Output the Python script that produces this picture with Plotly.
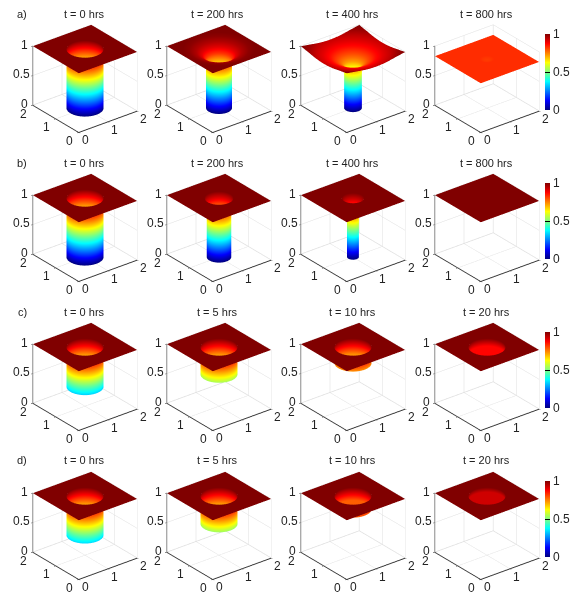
import numpy as np
import plotly.graph_objects as go

row_labels = ["a)", "b)", "c)", "d)"]
row_times = [["t = 0 hrs", "t = 200 hrs", "t = 400 hrs", "t = 800 hrs"],
             ["t = 0 hrs", "t = 200 hrs", "t = 400 hrs", "t = 800 hrs"],
             ["t = 0 hrs", "t = 5 hrs", "t = 10 hrs", "t = 20 hrs"],
             ["t = 0 hrs", "t = 5 hrs", "t = 10 hrs", "t = 20 hrs"]]

# radial profiles: (radius from centre, height)
a0_r = [0, .5, .5, 1.42];                         a0_z = [0, 0, 1, 1]
a200_r = [0, .35, .35, .45, .6, .8, 1.0, 1.42];   a200_z = [0, 0, .82, .9, .95, .985, 1, 1]
a400_r = [0, .24, .24, .3, .4, .6, .8, 1.0, 1.2, 1.42]; a400_z = [0, 0, .72, .76, .8, .86, .9, .93, .97, 1]
a800_r = [0, .1, .2, 1.42];                       a800_z = [.815, .82, .83, .83]
b0_r = [0, .5, .5, 1.42];                         b0_z = [0, 0, 1, 1]
b200_r = [0, .33, .33, .39, 1.42];                b200_z = [0, 0, .9, 1, 1]
b400_r = [0, .16, .16, .2, .3, 1.42];             b400_z = [0, 0, .84, .9, 1, 1]
b800_r = [0, 1.42];                               b800_z = [1, 1]
c0_r = [0, .5, .5, 1.42];                         c0_z = [.33, .33, 1, 1]
c5_r = [0, .5, .5, 1.42];                         c5_z = [.54, .54, 1, 1]
c10_r = [0, .5, .5, 1.42];                        c10_z = [.73, .73, 1, 1]
c20_r = [0, .5, .5, 1.42];                        c20_z = [.87, .87, 1, 1]
d0_r = [0, .5, .5, 1.42];                         d0_z = [.34, .34, 1, 1]
d5_r = [0, .5, .5, 1.42];                         d5_z = [.53, .53, 1, 1]
d10_r = [0, .5, .5, 1.42];                        d10_z = [.78, .78, 1, 1]
d20_r = [0, .5, .5, 1.42];                        d20_z = [.92, .92, 1, 1]

profiles = [[(a0_r, a0_z), (a200_r, a200_z), (a400_r, a400_z), (a800_r, a800_z)],
            [(b0_r, b0_z), (b200_r, b200_z), (b400_r, b400_z), (b800_r, b800_z)],
            [(c0_r, c0_z), (c5_r, c5_z), (c10_r, c10_z), (c20_r, c20_z)],
            [(d0_r, d0_z), (d5_r, d5_z), (d10_r, d10_z), (d20_r, d20_z)]]

xy_ticks = [0, 1, 2]
z_ticks = [0, 0.5, 1]
z_tick_text = ["0", "0.5", "1"]
jet = [[0, "#000080"], [.125, "#0000ff"], [.375, "#00ffff"], [.625, "#ffff00"], [.875, "#ff0000"], [1, "#800000"]]

W, H = 580, 600
col_front = [78, 212, 346, 480]
row_front = [133, 282, 431, 580]
title_y = [14, 163, 312, 460]
cbar_top = [34, 183, 332, 481]
HALF_W, HALF_H = 76, 74.5
EYE_D = 1.97
eye = dict(x=-.547 * EYE_D, y=-.696 * EYE_D, z=.465 * EYE_D)
z_label_shift = [-8, -11, -8]
TICK_FONT = dict(family="Liberation Sans", size=12, color="#222")


def surface_grid(r_p, z_p):
    theta = np.linspace(0, 2 * np.pi, 8 * 16 + 1)
    rho = 1 / np.maximum(np.abs(np.cos(theta)), np.abs(np.sin(theta)))
    rows_r, rows_z = [r_p[0]], [z_p[0]]
    for k in range(len(r_p) - 1):
        n = 24 if r_p[k + 1] - r_p[k] > .3 else 8
        rows_r += list(np.linspace(r_p[k], r_p[k + 1], n + 1)[1:])
        rows_z += list(np.linspace(z_p[k], z_p[k + 1], n + 1)[1:])
    rows_r, rows_z = np.array(rows_r), np.array(rows_z)
    rr = np.minimum.outer(rows_r, rho)
    zz = np.where(rows_r[:, None] > rho, np.interp(rho, r_p, z_p)[None, :], rows_z[:, None])
    return 1 + rr * np.cos(theta), 1 + rr * np.sin(theta), zz


def tick_labels():
    out = []
    common = dict(showarrow=False, xanchor="center", yanchor="middle", font=TICK_FONT)
    for v in xy_ticks:
        out.append(dict(x=v, y=0, z=0, text=str(v), xshift=7, yshift=-8, **common))
        out.append(dict(x=0, y=v, z=0, text=str(v), xshift=-9, yshift=-8.5, **common))
    for v, t, s in zip(z_ticks, z_tick_text, z_label_shift):
        out.append(dict(x=0, y=2, z=v, text=t, xshift=s, yshift=1.5, **common))
    return out


fig = go.Figure()
layout = {}
n = 0
for i in range(4):
    for j in range(4):
        n += 1
        sid = "scene" if n == 1 else f"scene{n}"
        x, y, z = surface_grid(*profiles[i][j])
        cb = dict(x=545 / W, xanchor="left", xpad=0, y=1 - cbar_top[i] / H, yanchor="top", ypad=0,
                  lenmode="pixels", len=76, thickness=5, outlinewidth=0, tickvals=z_ticks, ticktext=z_tick_text,
                  ticks="inside", ticklen=5, tickcolor="#000", tickfont=TICK_FONT)
        fig.add_trace(go.Surface(x=x, y=y, z=z, surfacecolor=z, cmin=0, cmax=1, colorscale=jet,
                                 showscale=(j == 3), colorbar=cb, scene=sid, hoverinfo="skip",
                                 lighting=dict(ambient=1, diffuse=0, specular=0, fresnel=0, roughness=1)))
        cx, cy = col_front[j] + 6.5, row_front[i] - 54.5
        tick = dict(showticklabels=False, showspikes=False, title=dict(text=""),
                    showbackground=False, gridcolor="#dedede", gridwidth=1, zeroline=False, showline=True,
                    linecolor="#333", linewidth=2, ticks="outside", ticklen=2, tickcolor="#444")
        layout[sid] = dict(
            domain=dict(x=[(cx - HALF_W) / W, (cx + HALF_W) / W],
                        y=[max(0, 1 - (cy + HALF_H) / H), 1 - (cy - HALF_H) / H]),
            camera=dict(eye=eye, up=dict(x=0, y=0, z=1), center=dict(x=0, y=0, z=0), projection=dict(type="orthographic")),
            aspectmode="manual", aspectratio=dict(x=1, y=1, z=.90),
            xaxis=dict(range=[-.004, 2.004], tickvals=xy_ticks, **tick),
            yaxis=dict(range=[-.004, 2.004], tickvals=xy_ticks, **tick),
            zaxis=dict(range=[-.004, 1.004], tickvals=z_ticks, **{**tick, "linecolor": "#aaa", "linewidth": 3}),
            annotations=tick_labels(),
            bgcolor="rgba(0,0,0,0)")

ann = []
for i in range(4):
    ann.append(dict(text=row_labels[i], x=22 / W, y=1 - title_y[i] / H, xref="paper", yref="paper", showarrow=False,
                    xanchor="center", yanchor="middle", font=dict(family="Liberation Sans", size=11, color="#222")))
    for j in range(4):
        ann.append(dict(text=row_times[i][j], x=(col_front[j] + 6) / W, y=1 - title_y[i] / H, xref="paper", yref="paper",
                        showarrow=False, xanchor="center", yanchor="middle",
                        font=dict(family="Liberation Sans", size=11, color="#222")))

fig.update_layout(width=W, height=H, margin=dict(l=0, r=0, t=0, b=0), paper_bgcolor="white", annotations=ann,
                  showlegend=False, **layout)
fig.write_html("out.html", post_script="document.body.style.margin='0';", config=dict(displayModeBar=False))
